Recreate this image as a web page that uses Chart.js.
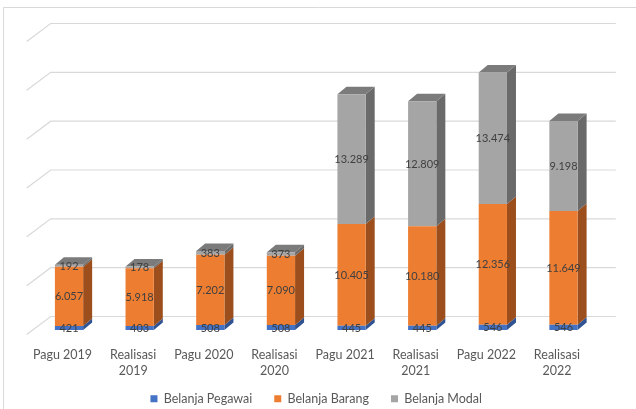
<!DOCTYPE html>
<html><head><meta charset="utf-8">
<script src="https://cdn.jsdelivr.net/npm/chart.js@4.4.1/dist/chart.umd.min.js"></script>
<style>html,body{margin:0;padding:0;background:#fff;overflow:hidden}</style>
</head><body>
<canvas id="c" width="636" height="409" style="display:block;width:636px;height:409px"></canvas>
<script>
// ---- data ----
const categories = ['Pagu 2019', ['Realisasi', '2019'], 'Pagu 2020', ['Realisasi', '2020'],
                    'Pagu 2021', ['Realisasi', '2021'], 'Pagu 2022', ['Realisasi', '2022']];
const seriesNames = ['Belanja Pegawai', 'Belanja Barang', 'Belanja Modal'];
const belanjaPegawai = [421, 403, 508, 508, 445, 445, 546, 546];
const belanjaBarang  = [6057, 5918, 7202, 7090, 10405, 10180, 12356, 11649];
const belanjaModal   = [192, 178, 383, 373, 13289, 12809, 13474, 9198];
const gridValues = [0, 5000, 10000, 15000, 20000, 25000, 30000];

// ---- style ----
const frontColors = ['#4472C4', '#ED7D31', '#A5A5A5'];
const sideColors  = ['#2F5292', '#9C4F1D', '#6A6A6A'];
const topColors   = ['#3A62A8', '#C2672A', '#7B7B7B'];
const depth = {dx: 9, dy: -7.5};
const wallFront = {dx: -7, dy: 4.5};
const wallBack = {dx: 17, dy: -13.5};
const fmt = v => String(v).replace(/\B(?=(\d{3})+(?!\d))/g, '.');

const threeD = {
  id: 'threeD',
  beforeDraw(chart) {
    const ctx = chart.ctx;
    ctx.save();
    ctx.strokeStyle = '#D9D9D9';
    ctx.lineWidth = 1;
    ctx.beginPath();
    ctx.moveTo(3.5, 409); ctx.lineTo(3.5, 7.5); ctx.lineTo(636, 7.5);
    ctx.stroke();
    ctx.restore();
  },
  beforeDatasetsDraw(chart) {
    const ctx = chart.ctx, ys = chart.scales.y, a = chart.chartArea;
    ctx.save();
    ctx.strokeStyle = '#D9D9D9';
    ctx.lineWidth = 1.2;
    gridValues.forEach(v => {
      const y = ys.getPixelForValue(v);
      ctx.beginPath();
      ctx.moveTo(a.left + wallFront.dx, y + wallFront.dy);
      ctx.lineTo(a.left + wallBack.dx, y + wallBack.dy);
      ctx.lineTo(a.right + wallBack.dx, y + wallBack.dy);
      ctx.stroke();
    });
    const n = chart.data.labels.length;
    for (let j = 0; j < n; j++) {
      let topIdx = -1;
      chart.data.datasets.forEach((ds, i) => { if (ds.data[j] > 0) topIdx = i; });
      chart.data.datasets.forEach((ds, i) => {
        const el = chart.getDatasetMeta(i).data[j];
        const p = el.getProps(['x', 'y', 'base', 'width'], true);
        const L = p.x - p.width / 2, R = p.x + p.width / 2;
        ctx.fillStyle = sideColors[i];
        ctx.beginPath();
        ctx.moveTo(R, p.y); ctx.lineTo(R + depth.dx, p.y + depth.dy);
        ctx.lineTo(R + depth.dx, p.base + depth.dy); ctx.lineTo(R, p.base);
        ctx.closePath(); ctx.fill();
        if (i === topIdx) {
          ctx.fillStyle = topColors[i];
          ctx.beginPath();
          ctx.moveTo(L, p.y); ctx.lineTo(L + depth.dx, p.y + depth.dy);
          ctx.lineTo(R + depth.dx, p.y + depth.dy); ctx.lineTo(R, p.y);
          ctx.closePath(); ctx.fill();
        }
      });
    }
    ctx.restore();
  },
  afterDatasetsDraw(chart) {
    const ctx = chart.ctx;
    ctx.save();
    ctx.font = '11px Lato';
    ctx.fillStyle = '#404040';
    ctx.textAlign = 'center';
    ctx.textBaseline = 'middle';
    chart.data.datasets.forEach((ds, i) => {
      chart.getDatasetMeta(i).data.forEach((el, j) => {
        const p = el.getProps(['x', 'y', 'base'], true);
        ctx.fillText(fmt(ds.data[j]), p.x, (p.y + p.base) / 2 + 0.5);
      });
    });
    ctx.restore();
  }
};

const datasets = [belanjaPegawai, belanjaBarang, belanjaModal].map((d, i) => ({
  label: seriesNames[i], data: d, backgroundColor: frontColors[i], borderWidth: 0,
  barPercentage: 0.4, categoryPercentage: 1
}));

new Chart(document.getElementById('c'), {
  type: 'bar',
  data: {labels: categories, datasets},
  plugins: [threeD],
  options: {
    responsive: false, animation: false, devicePixelRatio: 1,
    layout: {padding: {left: 33.7, right: 37.2, top: 37, bottom: -6}},
    scales: {
      x: {
        stacked: true,
        grid: {display: false}, border: {display: false},
        ticks: {font: {family: 'Lato', size: 12.5, lineHeight: 1.28}, color: '#595959', labelOffset: -6.5,
                maxRotation: 0, autoSkip: false, padding: 8.5},
        afterFit(s) { s.height = 40.5; s._computeLabelArea = () => undefined; }
      },
      y: {stacked: true, display: false, min: 0, max: 30000}
    },
    plugins: {
      legend: {position: 'bottom',
        labels: {font: {family: 'Lato', size: 12.5}, color: '#595959', boxWidth: 7, boxHeight: 7, padding: 22}},
      tooltip: {enabled: false}
    }
  }
});
</script>
</body></html>
